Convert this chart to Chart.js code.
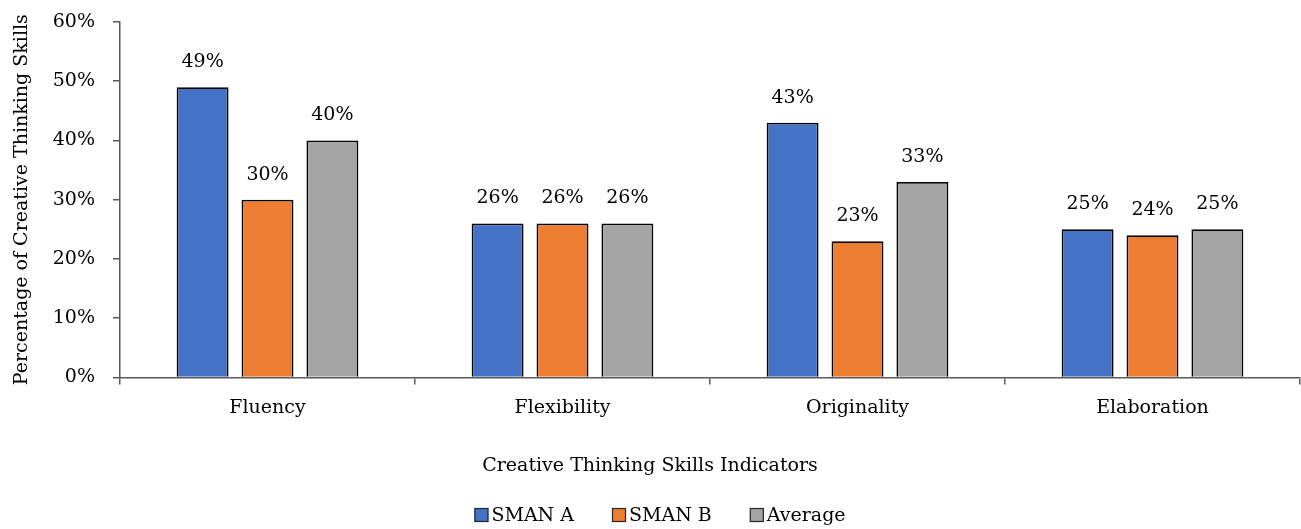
<!DOCTYPE html>
<html>
<head>
<meta charset="utf-8">
<script src="https://cdn.jsdelivr.net/npm/chart.js@4/dist/chart.umd.min.js"></script>
<style>
  html, body { margin: 0; padding: 0; background: #fff; }
  #wrap { width: 1301px; height: 529px; }
</style>
</head>
<body>
<div id="wrap"><canvas id="c" width="1301" height="529"></canvas></div>
<script>
const categories = ['Fluency', 'Flexibility', 'Originality', 'Elaboration'];
const smanA = [49, 26, 43, 25];
const smanB = [30, 26, 23, 24];
const average = [40, 26, 33, 25];
const seriesNames = ['SMAN A', 'SMAN B', 'Average'];
const seriesColors = ['#4472C4', '#ED7D31', '#A5A5A5'];
const yTicks = [0, 10, 20, 30, 40, 50, 60];

const FONT = "'DejaVu Serif', 'Liberation Serif', serif";
const FS = 19;
const AXIS_COLOR = '#595959';

// Percent labels above each bar
const barLabels = {
  id: 'barLabels',
  afterDatasetsDraw(chart) {
    const ctx = chart.ctx;
    ctx.save();
    ctx.font = `${FS}px ${FONT}`;
    ctx.fillStyle = '#000';
    ctx.textAlign = 'center';
    ctx.textBaseline = 'middle';
    chart.data.datasets.forEach((ds, i) => {
      chart.getDatasetMeta(i).data.forEach((bar, j) => {
        ctx.fillText(ds.data[j] + '%', bar.x, bar.y - 25);
      });
    });
    ctx.restore();
  }
};

// Legend row along the bottom: square swatch, tight gap, name
const bottomLegend = {
  id: 'bottomLegend',
  afterDraw(chart) {
    const ctx = chart.ctx;
    const box = 14, gap = 3, itemGap = 38;
    const cy = 515;
    ctx.save();
    ctx.font = `${FS}px ${FONT}`;
    ctx.textBaseline = 'middle';
    ctx.textAlign = 'left';
    const items = chart.data.datasets.map(ds => ({
      text: ds.label, color: ds.backgroundColor, w: ctx.measureText(ds.label).width
    }));
    const total = items.reduce((s, it) => s + box + gap + it.w, 0) + itemGap * (items.length - 1);
    let x = 660 - total / 2;
    items.forEach(it => {
      ctx.fillStyle = it.color;
      ctx.fillRect(x, cy - box / 2, box, box);
      ctx.strokeStyle = '#262626';
      ctx.lineWidth = 1.2;
      ctx.strokeRect(x + 0.5, cy - box / 2 + 0.5, box - 1, box - 1);
      ctx.fillStyle = '#000';
      ctx.fillText(it.text, x + box + gap, cy + 1);
      x += box + gap + it.w + itemGap;
    });
    ctx.restore();
  }
};

const series = [smanA, smanB, average];
new Chart(document.getElementById('c'), {
  type: 'bar',
  data: {
    labels: categories,
    datasets: series.map((vals, i) => ({
      label: seriesNames[i],
      data: vals,
      backgroundColor: seriesColors[i],
      borderColor: '#000',
      borderWidth: 1.8,
      barPercentage: 0.8,
      categoryPercentage: 0.66
    }))
  },
  options: {
    responsive: false,
    animation: false,
    layout: { padding: { top: 22, right: 1, left: 0, bottom: 52 } },
    plugins: {
      legend: { display: false },
      title: {
        display: true,
        position: 'bottom',
        text: 'Creative Thinking Skills Indicators',
        font: { family: FONT, size: FS, weight: 'normal' },
        color: '#000',
        padding: { top: 23, bottom: 0 }
      },
      tooltip: { enabled: false }
    },
    scales: {
      x: {
        grid: { display: true, drawOnChartArea: false, offset: true, tickLength: 7, color: AXIS_COLOR, lineWidth: 1.5 },
        border: { display: true, color: AXIS_COLOR, width: 1.5 },
        ticks: { font: { family: FONT, size: FS }, color: '#000', padding: 12 }
      },
      y: {
        min: 0,
        max: 60,
        afterBuildTicks(scale) { scale.ticks = yTicks.map(v => ({ value: v })); },
        afterFit(scale) {
          scale.width = 120;
          scale.paddingTop = 0;
          scale.paddingBottom = 0;
        },
        grid: { display: true, drawOnChartArea: false, tickLength: 7, color: AXIS_COLOR, lineWidth: 1.5 },
        border: { display: true, color: AXIS_COLOR, width: 1.5 },
        ticks: {
          font: { family: FONT, size: FS },
          color: '#000',
          padding: 18,
          callback: v => v + '%'
        },
        title: {
          display: true,
          text: 'Percentage of Creative Thinking Skills',
          font: { family: FONT, size: FS },
          color: '#000',
          padding: { top: 11, bottom: 4 }
        }
      }
    }
  },
  plugins: [barLabels, bottomLegend]
});
</script>
</body>
</html>
